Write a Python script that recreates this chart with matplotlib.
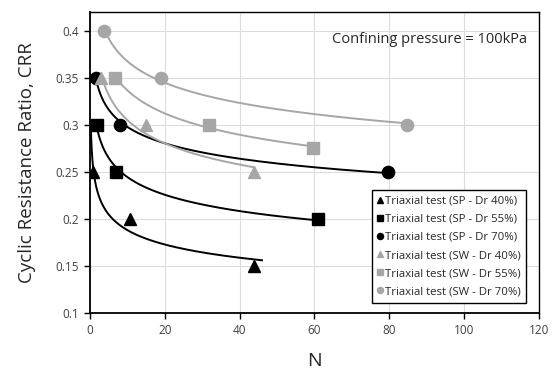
import numpy as np

import matplotlib
matplotlib.use('Agg')
import matplotlib.pyplot as plt

# Test data: cycles to liquefaction N and CRR
labels = [
    'Triaxial test (SP - Dr 40%)',
    'Triaxial test (SP - Dr 55%)',
    'Triaxial test (SP - Dr 70%)',
    'Triaxial test (SW - Dr 40%)',
    'Triaxial test (SW - Dr 55%)',
    'Triaxial test (SW - Dr 70%)',
]
n_sp40 = [0.8, 10.8, 43.8]
crr_sp40 = [0.25, 0.20, 0.15]
n_sp55 = [1.9, 6.9, 61.0]
crr_sp55 = [0.30, 0.25, 0.20]
n_sp70 = [1.7, 7.9, 79.8]
crr_sp70 = [0.35, 0.30, 0.25]
n_sw40 = [2.9, 15.0, 43.8]
crr_sw40 = [0.35, 0.30, 0.25]
n_sw55 = [6.8, 31.9, 59.6]
crr_sw55 = [0.35, 0.30, 0.275]
n_sw70 = [3.8, 19.0, 84.8]
crr_sw70 = [0.40, 0.35, 0.30]

# Range of the power-law trend line for each series
trend_start = [0.2, 1.9, 1.7, 2.9, 6.8, 3.8]
trend_end = [46.0, 61.0, 79.8, 43.8, 59.6, 84.8]


def main():
    plt.rcParams['font.family'] = ['Open Sans', 'DejaVu Sans']

    black = '#000000'
    grey = '#a6a6a6'

    series = [
        (n_sp40, crr_sp40, '^', black),
        (n_sp55, crr_sp55, 's', black),
        (n_sp70, crr_sp70, 'o', black),
        (n_sw40, crr_sw40, '^', grey),
        (n_sw55, crr_sw55, 's', grey),
        (n_sw70, crr_sw70, 'o', grey),
    ]

    fig = plt.figure(figsize=(5.52, 3.74), dpi=100)
    fig.patch.set_facecolor('white')
    ax = fig.add_axes([0.163, 0.163, 0.813, 0.805])

    for i, (n, crr, marker, colour) in enumerate(series):
        # Excel-style power trend line: CRR = a * N^b
        b, log_a = np.polyfit(np.log(n), np.log(crr), 1)
        xs = np.geomspace(trend_start[i], trend_end[i], 200)
        ax.plot(xs, np.exp(log_a) * xs ** b, color=colour, lw=1.4,
                zorder=2)
        ax.plot(n, crr, linestyle='none', marker=marker, color=colour,
                markersize=8.8, label=labels[i], zorder=3)

    ax.set_xlim(0, 120)
    ax.set_ylim(0.1, 0.42)
    ax.set_xticks(np.arange(0, 121, 20))
    ax.set_yticks([0.1, 0.15, 0.2, 0.25, 0.3, 0.35, 0.4])
    ax.set_yticklabels(['0.1', '0.15', '0.2', '0.25', '0.3', '0.35', '0.4'])
    ax.grid(True, color='#dcdcdc', lw=0.8)
    ax.set_axisbelow(True)
    ax.tick_params(labelsize=8.5, colors='#404040', length=4, width=1,
                   direction='out', pad=4)
    ax.tick_params(axis='both', color='black')
    for side in ['top', 'right', 'left', 'bottom']:
        ax.spines[side].set_linewidth(1.0)
        ax.spines[side].set_color('black')
    ax.spines['left'].set_linewidth(1.3)
    ax.spines['bottom'].set_linewidth(1.3)

    ax.set_xlabel('N', fontsize=14, color='#262626', labelpad=11)
    ax.set_ylabel('Cyclic Resistance Ratio, CRR', fontsize=13.5,
                  color='#262626', labelpad=14)

    ax.text(0.975, 0.908, 'Confining pressure = 100kPa',
            transform=ax.transAxes, ha='right', va='center', fontsize=10.5,
            color='#262626')

    legend = ax.legend(loc='lower right', bbox_to_anchor=(0.985, 0.015),
                       fontsize=8.2, markerscale=0.5, handlelength=0.4,
                       handletextpad=0.2, labelspacing=0.62, borderpad=0.5,
                       fancybox=False, framealpha=1, edgecolor='black')
    legend.get_frame().set_linewidth(1.0)
    for text in legend.get_texts():
        text.set_color('#262626')

    fig.savefig('out.png', dpi=100)


if __name__ == '__main__':
    main()
